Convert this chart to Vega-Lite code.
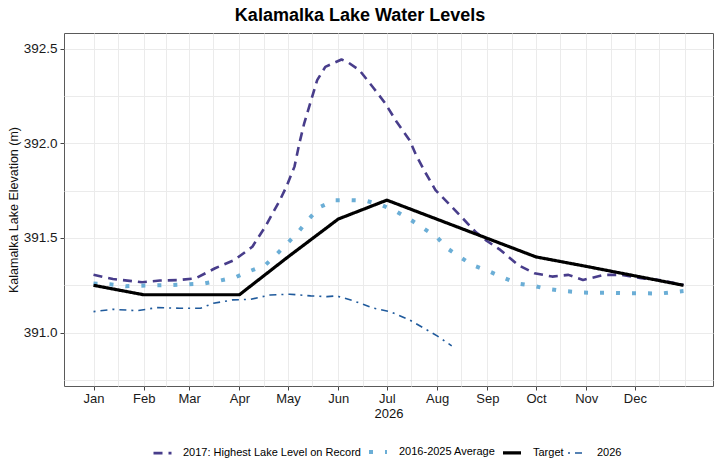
{
  "$schema": "https://vega.github.io/schema/vega-lite/v6.json",
  "width": 649,
  "height": 353,
  "autosize": {"type": "none"},
  "padding": {"left": 64, "top": 33, "right": 14, "bottom": 82},
  "background": "white",
  "title": {"text": "Kalamalka Lake Water Levels", "font": "Liberation Sans", "fontSize": 18, "fontWeight": "bold", "color": "#000000", "anchor": "middle", "frame": "bounds", "offset": 8},
  "config": {
    "view": {"stroke": "#5a5a5a", "strokeWidth": 1},
    "axis": {"labelFont": "Liberation Sans", "titleFont": "Liberation Sans"}
  },
  "data": {"values": [
    {"date": "2026-01-01", "series": "2017: Highest Lake Level on Record", "value": 391.306},
    {"date": "2026-01-13", "series": "2017: Highest Lake Level on Record", "value": 391.283},
    {"date": "2026-01-31", "series": "2017: Highest Lake Level on Record", "value": 391.266},
    {"date": "2026-02-11", "series": "2017: Highest Lake Level on Record", "value": 391.275},
    {"date": "2026-02-23", "series": "2017: Highest Lake Level on Record", "value": 391.278},
    {"date": "2026-03-05", "series": "2017: Highest Lake Level on Record", "value": 391.287},
    {"date": "2026-03-17", "series": "2017: Highest Lake Level on Record", "value": 391.34},
    {"date": "2026-03-29", "series": "2017: Highest Lake Level on Record", "value": 391.384},
    {"date": "2026-04-09", "series": "2017: Highest Lake Level on Record", "value": 391.454},
    {"date": "2026-04-17", "series": "2017: Highest Lake Level on Record", "value": 391.56},
    {"date": "2026-04-26", "series": "2017: Highest Lake Level on Record", "value": 391.70},
    {"date": "2026-04-30", "series": "2017: Highest Lake Level on Record", "value": 391.771},
    {"date": "2026-05-05", "series": "2017: Highest Lake Level on Record", "value": 391.877},
    {"date": "2026-05-08", "series": "2017: Highest Lake Level on Record", "value": 392.0},
    {"date": "2026-05-11", "series": "2017: Highest Lake Level on Record", "value": 392.106},
    {"date": "2026-05-15", "series": "2017: Highest Lake Level on Record", "value": 392.22},
    {"date": "2026-05-19", "series": "2017: Highest Lake Level on Record", "value": 392.334},
    {"date": "2026-05-24", "series": "2017: Highest Lake Level on Record", "value": 392.404},
    {"date": "2026-06-03", "series": "2017: Highest Lake Level on Record", "value": 392.443},
    {"date": "2026-06-07", "series": "2017: Highest Lake Level on Record", "value": 392.428},
    {"date": "2026-06-14", "series": "2017: Highest Lake Level on Record", "value": 392.387},
    {"date": "2026-06-23", "series": "2017: Highest Lake Level on Record", "value": 392.29},
    {"date": "2026-06-30", "series": "2017: Highest Lake Level on Record", "value": 392.211},
    {"date": "2026-07-07", "series": "2017: Highest Lake Level on Record", "value": 392.114},
    {"date": "2026-07-15", "series": "2017: Highest Lake Level on Record", "value": 392.017},
    {"date": "2026-07-19", "series": "2017: Highest Lake Level on Record", "value": 391.938},
    {"date": "2026-07-25", "series": "2017: Highest Lake Level on Record", "value": 391.842},
    {"date": "2026-07-31", "series": "2017: Highest Lake Level on Record", "value": 391.753},
    {"date": "2026-08-08", "series": "2017: Highest Lake Level on Record", "value": 391.683},
    {"date": "2026-08-15", "series": "2017: Highest Lake Level on Record", "value": 391.62},
    {"date": "2026-08-25", "series": "2017: Highest Lake Level on Record", "value": 391.53},
    {"date": "2026-08-31", "series": "2017: Highest Lake Level on Record", "value": 391.489},
    {"date": "2026-09-09", "series": "2017: Highest Lake Level on Record", "value": 391.437},
    {"date": "2026-09-20", "series": "2017: Highest Lake Level on Record", "value": 391.357},
    {"date": "2026-09-30", "series": "2017: Highest Lake Level on Record", "value": 391.314},
    {"date": "2026-10-11", "series": "2017: Highest Lake Level on Record", "value": 391.296},
    {"date": "2026-10-21", "series": "2017: Highest Lake Level on Record", "value": 391.305},
    {"date": "2026-10-30", "series": "2017: Highest Lake Level on Record", "value": 391.278},
    {"date": "2026-11-12", "series": "2017: Highest Lake Level on Record", "value": 391.305},
    {"date": "2026-11-23", "series": "2017: Highest Lake Level on Record", "value": 391.305},
    {"date": "2026-12-05", "series": "2017: Highest Lake Level on Record", "value": 391.287},
    {"date": "2026-12-16", "series": "2017: Highest Lake Level on Record", "value": 391.278},
    {"date": "2026-12-31", "series": "2017: Highest Lake Level on Record", "value": 391.252},

    {"date": "2026-01-01", "series": "2016-2025 Average", "value": 391.26},
    {"date": "2026-01-11", "series": "2016-2025 Average", "value": 391.255},
    {"date": "2026-01-21", "series": "2016-2025 Average", "value": 391.245},
    {"date": "2026-01-30", "series": "2016-2025 Average", "value": 391.248},
    {"date": "2026-02-09", "series": "2016-2025 Average", "value": 391.25},
    {"date": "2026-02-19", "series": "2016-2025 Average", "value": 391.252},
    {"date": "2026-02-28", "series": "2016-2025 Average", "value": 391.255},
    {"date": "2026-03-10", "series": "2016-2025 Average", "value": 391.259},
    {"date": "2026-03-20", "series": "2016-2025 Average", "value": 391.275},
    {"date": "2026-03-30", "series": "2016-2025 Average", "value": 391.294},
    {"date": "2026-04-08", "series": "2016-2025 Average", "value": 391.327},
    {"date": "2026-04-17", "series": "2016-2025 Average", "value": 391.357},
    {"date": "2026-04-24", "series": "2016-2025 Average", "value": 391.414},
    {"date": "2026-05-01", "series": "2016-2025 Average", "value": 391.475},
    {"date": "2026-05-08", "series": "2016-2025 Average", "value": 391.539},
    {"date": "2026-05-14", "series": "2016-2025 Average", "value": 391.602},
    {"date": "2026-05-21", "series": "2016-2025 Average", "value": 391.665},
    {"date": "2026-05-30", "series": "2016-2025 Average", "value": 391.70},
    {"date": "2026-06-08", "series": "2016-2025 Average", "value": 391.70},
    {"date": "2026-06-18", "series": "2016-2025 Average", "value": 391.697},
    {"date": "2026-06-28", "series": "2016-2025 Average", "value": 391.673},
    {"date": "2026-07-07", "series": "2016-2025 Average", "value": 391.639},
    {"date": "2026-07-15", "series": "2016-2025 Average", "value": 391.60},
    {"date": "2026-07-23", "series": "2016-2025 Average", "value": 391.554},
    {"date": "2026-08-01", "series": "2016-2025 Average", "value": 391.504},
    {"date": "2026-08-07", "series": "2016-2025 Average", "value": 391.447},
    {"date": "2026-08-15", "series": "2016-2025 Average", "value": 391.40},
    {"date": "2026-08-23", "series": "2016-2025 Average", "value": 391.356},
    {"date": "2026-09-02", "series": "2016-2025 Average", "value": 391.324},
    {"date": "2026-09-11", "series": "2016-2025 Average", "value": 391.29},
    {"date": "2026-09-20", "series": "2016-2025 Average", "value": 391.259},
    {"date": "2026-09-29", "series": "2016-2025 Average", "value": 391.248},
    {"date": "2026-10-08", "series": "2016-2025 Average", "value": 391.231},
    {"date": "2026-10-18", "series": "2016-2025 Average", "value": 391.22},
    {"date": "2026-10-28", "series": "2016-2025 Average", "value": 391.213},
    {"date": "2026-11-06", "series": "2016-2025 Average", "value": 391.21},
    {"date": "2026-11-16", "series": "2016-2025 Average", "value": 391.211},
    {"date": "2026-11-26", "series": "2016-2025 Average", "value": 391.208},
    {"date": "2026-12-06", "series": "2016-2025 Average", "value": 391.208},
    {"date": "2026-12-16", "series": "2016-2025 Average", "value": 391.206},
    {"date": "2026-12-26", "series": "2016-2025 Average", "value": 391.215},
    {"date": "2026-12-31", "series": "2016-2025 Average", "value": 391.22},

    {"date": "2026-01-01", "series": "Target", "value": 391.25},
    {"date": "2026-02-01", "series": "Target", "value": 391.20},
    {"date": "2026-03-01", "series": "Target", "value": 391.20},
    {"date": "2026-04-01", "series": "Target", "value": 391.20},
    {"date": "2026-05-01", "series": "Target", "value": 391.40},
    {"date": "2026-06-01", "series": "Target", "value": 391.60},
    {"date": "2026-07-01", "series": "Target", "value": 391.70},
    {"date": "2026-10-01", "series": "Target", "value": 391.40},
    {"date": "2026-11-01", "series": "Target", "value": 391.35},
    {"date": "2026-12-01", "series": "Target", "value": 391.30},
    {"date": "2026-12-31", "series": "Target", "value": 391.25},

    {"date": "2026-01-01", "series": "2026", "value": 391.111},
    {"date": "2026-01-13", "series": "2026", "value": 391.123},
    {"date": "2026-01-28", "series": "2026", "value": 391.116},
    {"date": "2026-02-09", "series": "2026", "value": 391.132},
    {"date": "2026-02-23", "series": "2026", "value": 391.129},
    {"date": "2026-03-08", "series": "2026", "value": 391.129},
    {"date": "2026-03-16", "series": "2026", "value": 391.155},
    {"date": "2026-03-28", "series": "2026", "value": 391.173},
    {"date": "2026-04-08", "series": "2026", "value": 391.176},
    {"date": "2026-04-20", "series": "2026", "value": 391.199},
    {"date": "2026-05-02", "series": "2026", "value": 391.203},
    {"date": "2026-05-15", "series": "2026", "value": 391.194},
    {"date": "2026-05-25", "series": "2026", "value": 391.19},
    {"date": "2026-05-31", "series": "2026", "value": 391.194},
    {"date": "2026-06-10", "series": "2026", "value": 391.169},
    {"date": "2026-06-23", "series": "2026", "value": 391.129},
    {"date": "2026-07-03", "series": "2026", "value": 391.111},
    {"date": "2026-07-15", "series": "2026", "value": 391.067},
    {"date": "2026-08-01", "series": "2026", "value": 390.983},
    {"date": "2026-08-10", "series": "2026", "value": 390.93}
  ]},
  "layer": [
    {
      "mark": {"type": "line", "opacity": 0},
      "encoding": {
        "x": {"field": "date", "type": "temporal",
          "scale": {"type": "utc", "domain": [{"year": 2025, "month": 12, "date": 13, "hours": 19, "utc": true}, {"year": 2027, "month": 1, "date": 18, "hours": 5, "utc": true}]},
          "axis": {"orient": "bottom", "grid": true, "gridColor": "#ebebeb", "gridWidth": 1, "labels": false, "ticks": false, "domain": false, "title": null,
            "values": [
              {"year": 2026, "month": 1, "date": 1, "utc": true}, {"year": 2026, "month": 1, "date": 16, "utc": true},
              {"year": 2026, "month": 2, "date": 1, "utc": true}, {"year": 2026, "month": 2, "date": 15, "utc": true},
              {"year": 2026, "month": 3, "date": 1, "utc": true}, {"year": 2026, "month": 3, "date": 16, "utc": true},
              {"year": 2026, "month": 4, "date": 1, "utc": true}, {"year": 2026, "month": 4, "date": 16, "utc": true},
              {"year": 2026, "month": 5, "date": 1, "utc": true}, {"year": 2026, "month": 5, "date": 16, "utc": true},
              {"year": 2026, "month": 6, "date": 1, "utc": true}, {"year": 2026, "month": 6, "date": 16, "utc": true},
              {"year": 2026, "month": 7, "date": 1, "utc": true}, {"year": 2026, "month": 7, "date": 16, "utc": true},
              {"year": 2026, "month": 8, "date": 1, "utc": true}, {"year": 2026, "month": 8, "date": 16, "utc": true},
              {"year": 2026, "month": 9, "date": 1, "utc": true}, {"year": 2026, "month": 9, "date": 16, "utc": true},
              {"year": 2026, "month": 10, "date": 1, "utc": true}, {"year": 2026, "month": 10, "date": 16, "utc": true},
              {"year": 2026, "month": 11, "date": 1, "utc": true}, {"year": 2026, "month": 11, "date": 16, "utc": true},
              {"year": 2026, "month": 12, "date": 1, "utc": true}, {"year": 2026, "month": 12, "date": 16, "utc": true},
              {"year": 2027, "month": 1, "date": 1, "utc": true}
            ]}},
        "y": {"field": "value", "type": "quantitative",
          "scale": {"domain": [390.718, 392.583], "zero": false, "nice": false},
          "axis": {"orient": "left", "grid": true, "gridColor": "#ebebeb", "gridWidth": 1, "labels": false, "ticks": false, "domain": false, "title": null,
            "values": [390.75, 391.0, 391.25, 391.5, 391.75, 392.0, 392.25, 392.5]}},
        "detail": {"field": "series"}
      }
    },
    {
      "mark": {"type": "line", "strokeCap": "butt", "strokeJoin": "round"},
      "encoding": {
        "x": {"field": "date", "type": "temporal",
          "axis": {"orient": "bottom", "grid": false, "domain": false, "title": "2026", "titleFont": "Liberation Sans", "titleFontSize": 13, "titleFontWeight": "normal", "titleColor": "#111111", "titlePadding": 2,
            "labelFont": "Liberation Sans", "labelFontSize": 13, "labelColor": "#1a1a1a", "labelPadding": 2, "tickColor": "#444444", "tickSize": 4,
            "labelExpr": "utcFormat(datum.value, '%b')",
            "values": [
              {"year": 2026, "month": 1, "date": 1, "utc": true}, {"year": 2026, "month": 2, "date": 1, "utc": true},
              {"year": 2026, "month": 3, "date": 1, "utc": true}, {"year": 2026, "month": 4, "date": 1, "utc": true},
              {"year": 2026, "month": 5, "date": 1, "utc": true}, {"year": 2026, "month": 6, "date": 1, "utc": true},
              {"year": 2026, "month": 7, "date": 1, "utc": true}, {"year": 2026, "month": 8, "date": 1, "utc": true},
              {"year": 2026, "month": 9, "date": 1, "utc": true}, {"year": 2026, "month": 10, "date": 1, "utc": true},
              {"year": 2026, "month": 11, "date": 1, "utc": true}, {"year": 2026, "month": 12, "date": 1, "utc": true}
            ]}},
        "y": {"field": "value", "type": "quantitative",
          "axis": {"orient": "left", "grid": false, "domain": false, "title": "Kalamalka Lake Elevation (m)", "titleFont": "Liberation Sans", "titleFontSize": 12.5, "titleFontWeight": "normal", "titleColor": "#111111", "titlePadding": 3,
            "labelFont": "Liberation Sans", "labelFontSize": 13.5, "labelColor": "#1a1a1a", "labelPadding": 3, "tickColor": "#444444", "tickSize": 4, "format": ".1f",
            "values": [391.0, 391.5, 392.0, 392.5]}},
        "color": {"field": "series", "type": "nominal",
          "scale": {"domain": ["2017: Highest Lake Level on Record", "2016-2025 Average", "Target", "2026"], "range": ["#483d8b", "#6baed6", "#000000", "#1f5a9c"]},
          "legend": {"title": null, "orient": "none", "legendX": 88, "legendY": 408, "direction": "horizontal", "symbolType": "stroke", "symbolSize": 324,
            "labelFont": "Liberation Sans", "labelFontSize": 11, "labelColor": "#000000", "labelOffset": 10, "columnPadding": 0, "labelLimit": 0}},
        "strokeDash": {"field": "series", "type": "nominal",
          "scale": {"domain": ["2017: Highest Lake Level on Record", "2016-2025 Average", "Target", "2026"], "range": [[9, 6], [4, 12], [1, 0], [2, 5, 7, 5]]},
          "legend": {"title": null}},
        "strokeWidth": {"field": "series", "type": "nominal",
          "scale": {"type": "ordinal", "domain": ["2017: Highest Lake Level on Record", "2016-2025 Average", "Target", "2026"], "range": [2.6, 4, 3.2, 1.6]},
          "legend": {"title": null}}
      }
    }
  ],
  "resolve": {"axis": {"x": "independent", "y": "independent"}}
}
